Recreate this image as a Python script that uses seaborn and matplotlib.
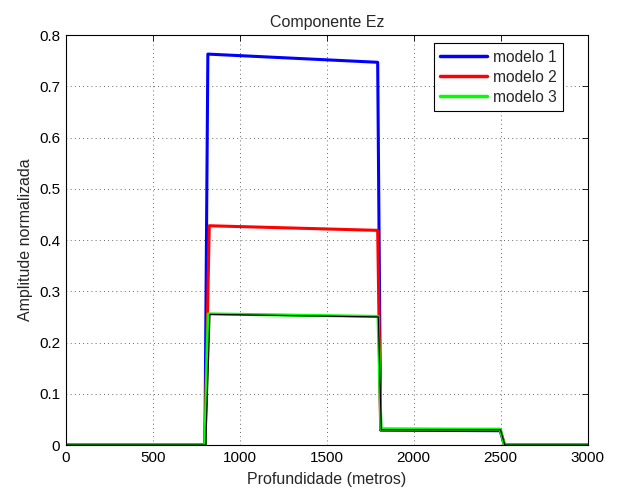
import numpy as np
import pandas as pd
import matplotlib
matplotlib.use('Agg')
import matplotlib.pyplot as plt
import seaborn as sns

# profundidade (metros) e amplitudes
x_m1 = [0, 800, 817, 1793, 1810, 2497, 2522, 3000]
y_m1 = [0, 0, 0.763, 0.747, 0.029, 0.028, 0, 0]

x_m2 = [0, 800, 825, 1793, 1810, 2497, 2522, 3000]
y_m2 = [0, 0, 0.428, 0.419, 0.031, 0.030, 0, 0]

x_m3 = [0, 800, 819, 1795, 1812, 2497, 2522, 3000]
y_m3 = [0, 0, 0.256, 0.251, 0.031, 0.031, 0, 0]

x_ref = [0, 805, 829, 1797, 1814, 2499, 2524, 3000]
y_ref = [0, 0, 0.255, 0.250, 0.030, 0.030, 0, 0]

labels = ['modelo 1', 'modelo 2', 'modelo 3']
colors = ['#0000ff', '#ff0000', '#00ff00']

sns.set_style('white')
plt.rcParams['font.family'] = ['Liberation Sans', 'DejaVu Sans']

fig = plt.figure(figsize=(6.17, 4.88), dpi=100)
ax = fig.add_axes([0.1065, 0.088, 0.846, 0.84])

for xs, ys, lab, c in zip([x_m1, x_m2, x_m3], [y_m1, y_m2, y_m3], labels, colors):
    sns.lineplot(x=xs, y=ys, ax=ax, color=c, linewidth=2.2, label=lab,
                 estimator=None, sort=False)
sns.lineplot(x=x_ref, y=y_ref, ax=ax, color='black', linewidth=0.9,
             estimator=None, sort=False, legend=False)

ax.set_xlim(0, 3000)
ax.set_ylim(0, 0.8)
ax.set_xticks(np.arange(0, 3001, 500))
ax.set_yticks(np.arange(0, 0.81, 0.1))
ax.set_yticklabels(['0', '0.1', '0.2', '0.3', '0.4', '0.5', '0.6', '0.7', '0.8'])
ax.tick_params(direction='in', top=True, right=True, length=4, width=0.6,
               labelsize=11, colors='black', pad=4)
ax.grid(True, linestyle=(0, (1, 4)), color='black', linewidth=0.6, alpha=0.8)
for s in ax.spines.values():
    s.set_visible(True)
    s.set_color('black')
    s.set_linewidth(0.8)

ax.set_title('Componente Ez', fontsize=11.5, pad=6)
ax.set_xlabel('Profundidade (metros)', fontsize=11.5, labelpad=5)
ax.set_ylabel('Amplitude normalizada', fontsize=11.5, labelpad=4)

leg = ax.legend(loc='upper right', bbox_to_anchor=(0.953, 0.98), borderaxespad=0,
                fontsize=11.2, fancybox=False, framealpha=1, edgecolor='black',
                handlelength=3.0, handletextpad=0.4, borderpad=0.4, labelspacing=0.32)
leg.get_frame().set_linewidth(0.8)
for line in leg.get_lines():
    line.set_linewidth(2.5)

fig.savefig('out.png', dpi=100)
